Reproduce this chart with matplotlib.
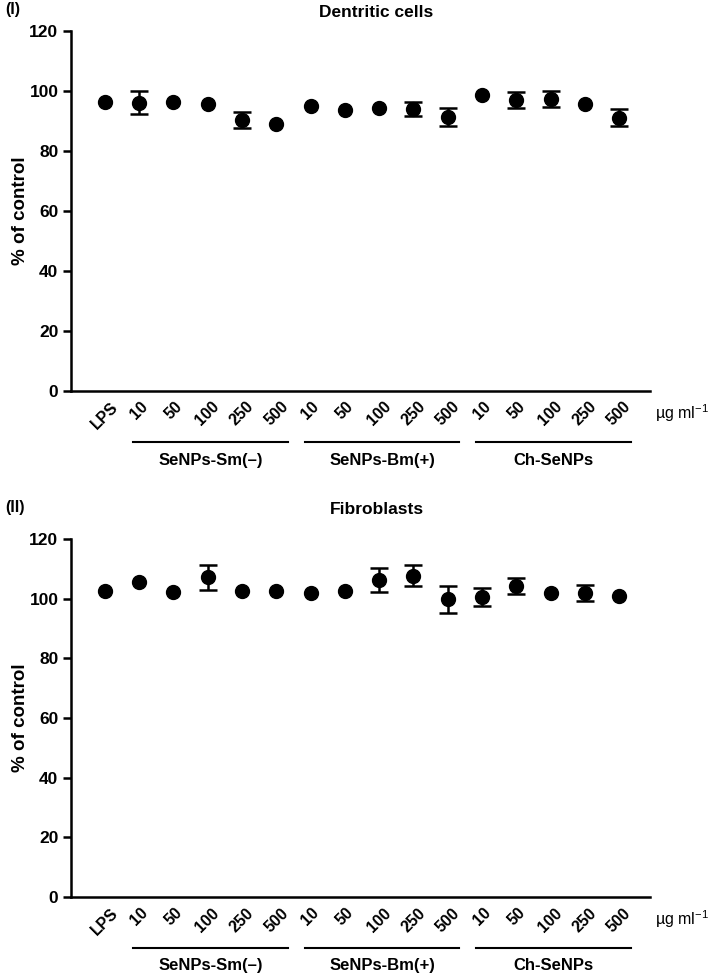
# viability plots: dendritic cells and fibroblasts, % of control
import matplotlib
matplotlib.use("Agg")
import matplotlib.pyplot as plt
import matplotlib.transforms as mtransforms

plt.rcParams['font.family'] = ['Liberation Sans', 'DejaVu Sans']
plt.rcParams['font.weight'] = 'bold'
plt.rcParams['mathtext.fontset'] = 'custom'
plt.rcParams['mathtext.rm'] = 'Liberation Sans'
plt.rcParams['mathtext.default'] = 'regular'

# tick labels along x
doses = ["LPS", "10", "50", "100", "250", "500",
         "10", "50", "100", "250", "500",
         "10", "50", "100", "250", "500"]
groups = ["SeNPs-Sm(\u2013)", "SeNPs-Bm(+)", "Ch-SeNPs"]
group_span = [(1, 5), (6, 10), (11, 15)]

# dendritic cells, means and errors
dc_mean = [96.1, 96.0, 96.3, 95.6, 90.3, 89.0,
           94.8, 93.7, 94.1, 93.9, 91.2,
           98.6, 96.8, 97.2, 95.4, 91.0]
dc_err = [0, 3.8, 0, 0, 2.7, 0,
          0, 0, 0, 2.2, 3.1,
          0, 2.6, 2.6, 0, 2.8]

# fibroblasts
fb_mean = [102.6, 105.6, 102.4, 107.3, 102.6, 102.7,
           101.9, 102.6, 106.3, 107.8, 99.9,
           100.6, 104.4, 102.1, 102.0, 101.1]
fb_err = [0, 0, 0, 4.2, 0, 0,
          0, 0, 4.0, 3.6, 4.5,
          3.0, 2.7, 0, 2.8, 0]

panels = [("(I)", "Dentritic cells", dc_mean, dc_err),
          ("(II)", "Fibroblasts", fb_mean, fb_err)]

fig = plt.figure(figsize=(7.09, 9.77), dpi=100)
rects = [[0.1001, 0.6001, 0.8167, 0.3685],
         [0.1001, 0.0820, 0.8167, 0.3660]]
title_y = [0.987, 0.478]

x = list(range(len(doses)))

for (tag, title, mean, err), rect, ty in zip(panels, rects, title_y):
    ax = fig.add_axes(rect)
    # only points with a visible SD get bars
    xe = [i for i in x if err[i] > 0]
    ax.errorbar(xe, [mean[i] for i in xe], yerr=[err[i] for i in xe],
                fmt='none', ecolor='black', elinewidth=1.8, capsize=6.5,
                capthick=1.8)
    ax.plot(x, mean, 'o', color='black', ms=10)
    ax.set_xlim(-0.99, 15.9)
    ax.set_ylim(0, 120)
    ax.set_yticks([0, 20, 40, 60, 80, 100, 120])
    ax.spines['top'].set_visible(False)
    ax.spines['right'].set_visible(False)
    ax.spines['left'].set_linewidth(1.8)
    ax.spines['bottom'].set_linewidth(1.8)
    ax.tick_params(axis='y', direction='out', length=6, width=1.8,
                   labelsize=12.5, pad=3)
    ax.tick_params(axis='x', length=0, pad=6, labelsize=11.5)
    ax.set_xticks(x)
    ax.set_xticklabels(doses, rotation=45, ha='center', fontweight='bold')
    for lab in ax.get_yticklabels():
        lab.set_fontweight('bold')
    ax.set_ylabel("% of control", fontsize=13.5, fontweight='bold')
    ax.yaxis.set_label_coords(-0.072, 0.5)

    trans = mtransforms.blended_transform_factory(ax.transData, ax.transAxes)
    for name, (a, b) in zip(groups, group_span):
        x0, x1 = a - 0.17, b + 0.34
        ax.plot([x0, x1], [-0.143, -0.143], color='black', lw=1.5,
                transform=trans, clip_on=False)
        ax.text((x0 + x1) / 2, -0.193, name, transform=trans, ha='center',
                va='center', fontsize=12, fontweight='bold')
    ax.text(16.05, -0.062, "\u00b5g ml$^{-1}$", transform=trans,
            ha='left', va='center', fontsize=11.5, fontweight='normal')

    fig.text(0.531, ty, title, ha='center', va='center', fontsize=12.5,
             fontweight='bold')
    fig.text(0.008, ty + 0.003, tag, ha='left', va='center', fontsize=11.5,
             fontweight='bold')

plt.savefig('out.png', dpi=100)
